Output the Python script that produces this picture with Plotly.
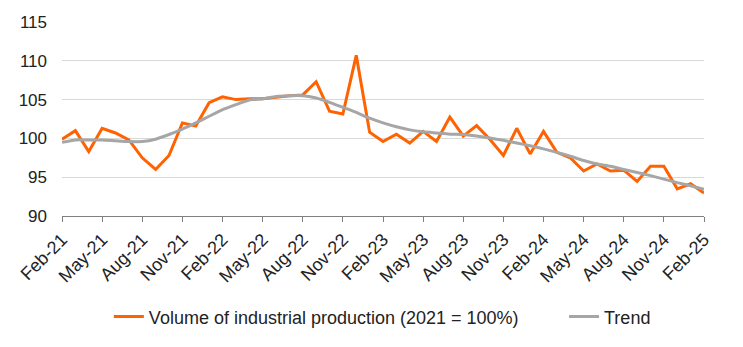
import plotly.graph_objects as go

months = ["Feb","Mar","Apr","May","Jun","Jul","Aug","Sep","Oct","Nov","Dec","Jan"]
categories = []
y, mi = 21, 0
for i in range(49):
    m = months[mi % 12]
    if m == "Jan":
        y += 1
    categories.append(f"{m}-{y}")
    mi += 1

production = [99.9, 101.0, 98.3, 101.3, 100.7, 99.8, 97.5, 96.0, 97.8, 102.0, 101.6, 104.6,
              105.35, 105.0, 105.1, 105.1, 105.3, 105.5, 105.6, 107.3, 103.5, 103.15, 110.7, 100.8,
              99.6, 100.55, 99.4, 100.9, 99.6, 102.75, 100.3, 101.65, 99.85, 97.8, 101.3, 98.0,
              100.9, 98.2, 97.5, 95.8, 96.7, 95.8, 95.9, 94.45, 96.4, 96.4, 93.5, 94.15, 92.95]

trend = [99.5, 99.8, 99.8, 99.8, 99.7, 99.6, 99.6, 99.9, 100.5, 101.2, 102.0, 102.85,
         103.7, 104.35, 104.95, 105.1, 105.4, 105.5, 105.5, 105.2, 104.65, 104.0, 103.35, 102.6,
         102.0, 101.5, 101.1, 100.85, 100.7, 100.55, 100.5, 100.3, 100.05, 99.75, 99.4, 99.05,
         98.65, 98.2, 97.7, 97.15, 96.7, 96.4, 96.0, 95.6, 95.2, 94.75, 94.3, 93.9, 93.45]

tick_labels = categories[::3]
y_ticks = [90, 95, 100, 105, 110, 115]

FONT = "Liberation Sans"

fig = go.Figure()
fig.add_trace(go.Scatter(x=categories, y=production, mode="lines",
                         name="Volume of industrial production (2021 = 100%)",
                         line=dict(color="#FF6200", width=3), legend="legend"))
fig.add_trace(go.Scatter(x=categories, y=trend, mode="lines", name="Trend",
                         line=dict(color="#A6A6A6", width=3, shape="spline", smoothing=0.6),
                         legend="legend2"))

leg_common = dict(orientation="h", y=-0.52, yanchor="middle", xanchor="left",
                  font=dict(size=18, color="#222222"), bgcolor="rgba(0,0,0,0)")

fig.update_layout(
    width=743, height=347,
    margin=dict(l=62, r=39, t=22, b=131),
    paper_bgcolor="white", plot_bgcolor="white",
    font=dict(family=FONT, size=17, color="#222222"),
    showlegend=True,
    legend=dict(x=0.073, **leg_common),
    legend2=dict(x=0.782, **leg_common),
    xaxis=dict(type="category", range=[0, 48], tickmode="array",
               tickvals=tick_labels, ticktext=tick_labels, tickangle=-45,
               ticks="outside", ticklen=5, tickcolor="#808080",
               showline=True, linecolor="#808080", linewidth=1,
               showgrid=False, tickfont=dict(size=18, color="#222222")),
    yaxis=dict(range=[90, 115], tickvals=y_ticks, showgrid=True, gridcolor="#D9D9D9",
               gridwidth=1, zeroline=False, showline=False, ticks="",
               tickfont=dict(size=17, color="#222222"), ticklabelstandoff=14),
)

fig.write_html("out.html")
